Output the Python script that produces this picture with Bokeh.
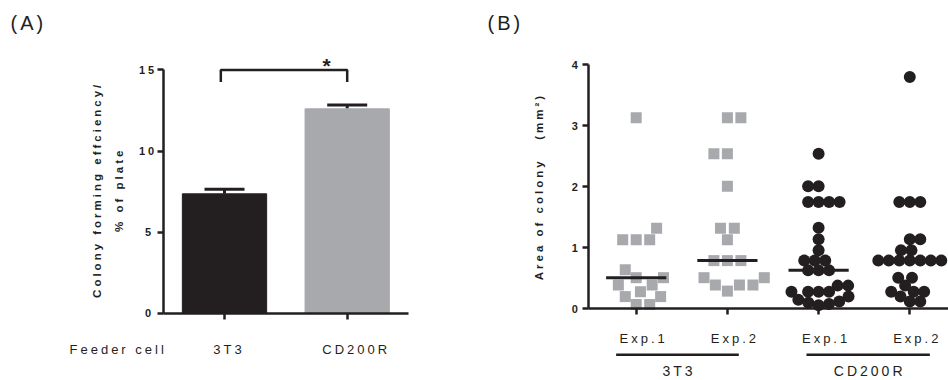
import numpy as np
from bokeh.plotting import figure
from bokeh.models import (Range1d, FixedTicker, Whisker, TeeHead, ColumnDataSource,
                          InlineStyleSheet)
from bokeh.layouts import row
from bokeh.embed import file_html
from bokeh.resources import INLINE
from bokeh.core.properties import value

# ---------------- data: panel A ----------------
feeder_cells = ["3T3", "CD200R"]
cfe_mean = [7.36, 12.60]
cfe_sem = [0.28, 0.24]
bar_colors = ["#231f20", "#a7a9ac"]
sig_label = "*"
row_label = "Feeder cell"
ylabel_a = ["Colony forming effciency/", "% of plate"]

# ---------------- data: panel B ----------------
area_3t3_exp1 = [3.13, 1.32, 1.13, 1.13, 1.13, 0.64, 0.51, 0.51, 0.39, 0.39,
                 0.28, 0.20, 0.20, 0.07, 0.07]
area_3t3_exp2 = [3.13, 3.13, 2.54, 2.54, 2.01, 1.32, 1.32, 1.13, 0.79, 0.79,
                 0.79, 0.51, 0.51, 0.39, 0.39, 0.39, 0.29]
area_cd200r_exp1 = [2.54, 2.01, 2.01, 1.75, 1.75, 1.75, 1.75, 1.33, 1.14, 0.96,
                    0.79, 0.79, 0.79, 0.63, 0.63, 0.63, 0.38, 0.38, 0.28, 0.28,
                    0.28, 0.28, 0.20, 0.15, 0.12, 0.10, 0.08, 0.06]
area_cd200r_exp2 = [3.80, 1.75, 1.75, 1.75, 1.14, 1.14, 0.96, 0.96, 0.79, 0.79,
                    0.79, 0.79, 0.79, 0.79, 0.79, 0.51, 0.51, 0.38, 0.28, 0.28,
                    0.28, 0.20, 0.12, 0.12]
exp_labels = ["Exp.1", "Exp.2", "Exp.1", "Exp.2"]
group_labels = ["3T3", "CD200R"]
ylabel_b = "Area of colony\u00a0\u00a0\u00a0(mm\u00b2)"

BLACK = "#231f20"
GRAY = "#a7a9ac"
FONT = "Liberation Sans"
LS = 3  # letter spacing in px (applied through CSS)
sheet = InlineStyleSheet(css=":host { letter-spacing: %dpx; }" % LS)


def spread_shift(txt):
    # extra visible length added by CSS letter spacing (text drawn from its start)
    return (len(txt) - 1) * LS / 2.0


def base_fig(width, xr, yr):
    p = figure(width=width, height=380, x_range=Range1d(*xr), y_range=Range1d(*yr),
               output_backend="svg", toolbar_location=None, stylesheets=[sheet],
               min_border_left=0, min_border_right=0, min_border_top=0, min_border_bottom=0)
    p.outline_line_color = None
    p.xgrid.visible = False
    p.ygrid.visible = False
    for ax in (p.xaxis[0], p.yaxis[0]):
        ax.axis_line_width = 2.5
        ax.axis_line_color = BLACK
        ax.major_tick_line_width = 2.5
        ax.major_tick_line_color = BLACK
        ax.major_tick_out = 6
        ax.major_tick_in = 0
        ax.minor_tick_line_color = None
        ax.major_label_text_font = FONT
        ax.major_label_text_color = BLACK
    return p


# ================= Panel A =================
# scale: 122.7 px per category step, 16.22 px per y unit; window 470 x 380
PXA_X, PXA_Y = 122.7, 16.22
pa = base_fig(470, (1 - 224 / PXA_X, 1 + 246 / PXA_X), (-67.3 / PXA_Y, 312.7 / PXA_Y))
xpos_a = list(range(1, len(feeder_cells) + 1))
src_a = ColumnDataSource(dict(x=xpos_a, top=cfe_mean,
                              upper=[m + s for m, s in zip(cfe_mean, cfe_sem)],
                              color=bar_colors))
pa.vbar(x="x", top="top", width=0.687, color="color", source=src_a)
pa.add_layout(Whisker(base="x", upper="upper", lower="top", source=src_a,
                      line_width=3, line_color=BLACK,
                      upper_head=TeeHead(size=40, line_width=3, line_color=BLACK),
                      lower_head=None))
bracket_top = 15.0
bracket_leg = 14.25
pa.line(x=[xpos_a[0] - 0.03, xpos_a[0] - 0.03, xpos_a[1], xpos_a[1]],
        y=[bracket_leg, bracket_top, bracket_top, bracket_leg],
        line_width=2.5, line_color=BLACK)
pa.text(x=[1.831], y=[15.30], text=[sig_label], text_font=value(FONT), text_font_size="21px",
        text_font_style="bold", text_align="center", text_baseline="alphabetic",
        text_color=BLACK)

pa.yaxis.fixed_location = 0.5
pa.yaxis.bounds = (0, 15)
pa.yaxis.ticker = FixedTicker(ticks=[0, 5, 10, 15])
pa.yaxis.major_label_text_font_style = "bold"
pa.yaxis.major_label_text_font_size = "11px"
pa.yaxis.major_label_standoff = 6

pa.xaxis.fixed_location = 0
pa.xaxis.bounds = (0.5, 2.5)
pa.xaxis.ticker = FixedTicker(ticks=xpos_a)
pa.xaxis.major_label_overrides = {x: c for x, c in zip(xpos_a, feeder_cells)}
pa.xaxis.major_label_text_font_size = "13px"
pa.xaxis.major_label_standoff = 23

# y-axis title (two lines) and other texts
ya_x = [1 + (96.7 - 224) / PXA_X, 1 + (118 - 224) / PXA_X]
ya_c = (312.7 - 190.8) / PXA_Y
pa.text(x=ya_x, y=[ya_c - spread_shift(t) / PXA_Y for t in ylabel_a], text=ylabel_a,
        angle=np.pi / 2, text_font=value(FONT), text_font_size="11.5px",
        text_font_style="bold", text_align="center", text_baseline="middle", text_color=BLACK)
pa.text(x=[1 + (69 - 224) / PXA_X], y=[(312.7 - 349) / PXA_Y], text=[row_label],
        text_font=value(FONT), text_font_size="13px", text_align="left",
        text_baseline="middle", text_color=BLACK)
pa.text(x=[1 + (10 - 224) / PXA_X], y=[(312.7 - 22) / PXA_Y], text=["(A)"],
        text_font=value(FONT), text_font_size="20px", text_align="left",
        text_baseline="middle", text_color=BLACK)

# ================= Panel B =================
PX_X, PX_Y = 91.2, 61.0
X0B, Y0B = 635.7 - 470, 308.3  # pixel of (x=1, y=0) inside the figure


def swarm(vals, d_px):
    vals = np.asarray(vals, dtype=float)
    order = np.argsort(vals, kind="stable")
    placed = []
    xs = np.zeros(len(vals))
    side = 1
    for i in order:
        y = vals[i] * PX_Y
        near = [(px, py) for px, py in placed if abs(py - y) < d_px]
        cands = [0.0]
        for px, py in near:
            dx = np.sqrt(d_px ** 2 - (py - y) ** 2)
            cands += [px + dx, px - dx]
        valid = [c for c in cands
                 if all((c - px) ** 2 + (y - py) ** 2 >= d_px ** 2 - 1e-6 for px, py in near)]
        best = min(valid, key=lambda c: (round(abs(c), 4), -side * np.sign(c)))
        if best != 0:
            side = -int(np.sign(best))
        xs[i] = best
        placed.append((best, y))
    return xs / PX_X


pb = base_fig(478, (1 - X0B / PX_X, 1 + (478 - X0B) / PX_X), (-(380 - Y0B) / PX_Y, Y0B / PX_Y))

series = [area_3t3_exp1, area_3t3_exp2, area_cd200r_exp1, area_cd200r_exp2]
markers = ["square", "square", "circle", "circle"]
colors = [GRAY, GRAY, BLACK, BLACK]
sizes = [11, 11, 12, 12]
spacing = [13.5, 13.5, 10.5, 10.5]
for k, vals in enumerate(series):
    pos = k + 1
    xs = pos + swarm(vals, spacing[k])
    pb.scatter(x=xs, y=vals, marker=markers[k], size=sizes[k], fill_color=colors[k],
               line_color=None)
    med = float(np.median(vals))
    pb.segment(x0=[pos - 0.33], x1=[pos + 0.33], y0=[med], y1=[med], line_width=3,
               line_color=BLACK)

xpos_b = list(range(1, len(exp_labels) + 1))
pb.yaxis.fixed_location = 1 - (X0B - 118.3) / PX_X
pb.yaxis.bounds = (0, 4)
pb.yaxis.ticker = FixedTicker(ticks=[0, 1, 2, 3, 4])
pb.yaxis.major_label_text_font_style = "bold"
pb.yaxis.major_label_text_font_size = "11px"
pb.yaxis.major_label_standoff = 5

pb.xaxis.fixed_location = 0
pb.xaxis.bounds = (1 - (X0B - 118.3) / PX_X, 1 + (478 - X0B) / PX_X)
pb.xaxis.ticker = FixedTicker(ticks=xpos_b)
pb.xaxis.major_label_overrides = {x: t for x, t in zip(xpos_b, exp_labels)}
pb.xaxis.major_label_text_font_size = "13px"
pb.xaxis.major_label_standoff = 16

yb_c = (Y0B - 187.5) / PX_Y
pb.text(x=[1 + (538 - 470 - X0B) / PX_X], y=[yb_c - spread_shift(ylabel_b) / PX_Y],
        text=[ylabel_b], angle=np.pi / 2, text_font=value(FONT), text_font_size="11.5px",
        text_font_style="bold", text_align="center", text_baseline="middle", text_color=BLACK)

group_spans = [(0.78, 2.125), (2.867, 4.22)]
group_line_y = -(354.3 - Y0B) / PX_Y
group_text_y = -(370.5 - Y0B) / PX_Y
pb.segment(x0=[a for a, b in group_spans], x1=[b for a, b in group_spans],
           y0=[group_line_y] * 2, y1=[group_line_y] * 2, line_width=2.5, line_color=BLACK)
pb.text(x=[(a + b) / 2 - spread_shift(g) / PX_X for (a, b), g in zip(group_spans, group_labels)],
        y=[group_text_y] * 2, text=group_labels, text_font=value(FONT), text_font_size="14px",
        text_align="center", text_baseline="middle", text_color=BLACK)
pb.text(x=[1 + (487 - 470 - X0B) / PX_X], y=[(Y0B - 22) / PX_Y], text=["(B)"],
        text_font=value(FONT), text_font_size="20px", text_align="left",
        text_baseline="middle", text_color=BLACK)

layout = row(pa, pb)
open("out.html", "w").write(file_html(layout, INLINE))
